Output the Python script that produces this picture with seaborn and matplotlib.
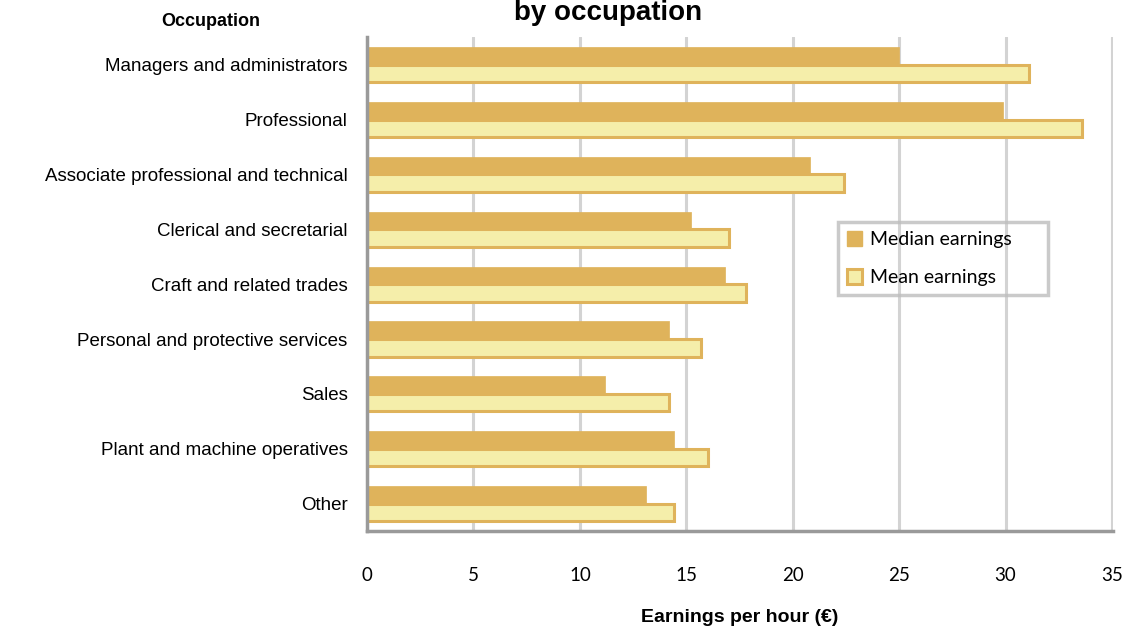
import pandas as pd
import matplotlib.pyplot as plt
import seaborn as sns

# Values
occupations = ['Managers and administrators', 'Professional', 'Associate professional and technical',
               'Clerical and secretarial', 'Craft and related trades', 'Personal and protective services',
               'Sales', 'Plant and machine operatives', 'Other']
median_earnings = [25.0, 29.9, 20.8, 15.2, 16.8, 14.2, 11.2, 14.4, 13.1]
mean_earnings = [31.1, 33.6, 22.4, 17.0, 17.8, 15.7, 14.2, 16.0, 14.4]
x_ticks = [0, 5, 10, 15, 20, 25, 30, 35]

data = pd.DataFrame({
    'occupation': occupations * 2,
    'earnings': median_earnings + mean_earnings,
    'series': ['Median earnings'] * len(occupations) + ['Mean earnings'] * len(occupations),
})

sns.set_style('white')
plt.rcParams['font.family'] = ['Liberation Sans', 'DejaVu Sans']
plt.rcParams['text.color'] = 'black'
plt.rcParams['xtick.color'] = 'black'
plt.rcParams['ytick.color'] = 'black'
plt.rcParams['axes.labelcolor'] = 'black'

gold = '#DFB35B'
pale = '#F5EEAA'
grey = '#9A9A9A'

fig = plt.figure(figsize=(11.26, 6.28), dpi=100)
ax = fig.add_axes([0.326, 0.1545, 0.6625, 0.786])

sns.barplot(data=data, y='occupation', x='earnings', hue='series',
            hue_order=['Median earnings', 'Mean earnings'], order=occupations,
            palette=[gold, pale], saturation=1, width=0.64, orient='h', ax=ax, legend=True)

# median bars flat, mean bars outlined
for bar in ax.containers[0]:
    bar.set_edgecolor(gold)
    bar.set_linewidth(0.5)
for bar in ax.containers[1]:
    bar.set_edgecolor(gold)
    bar.set_linewidth(2.2)

ax.set_xlim(0, 35.05)
ax.set_ylim(len(occupations) - 0.5, -0.5)
ax.set_xticks(x_ticks)
ax.set_xticklabels([str(t) for t in x_ticks], family='Lato', fontsize=13.5)
ax.xaxis.grid(True, color='#D3D3D3', linewidth=2.2)
ax.set_axisbelow(True)

ax.tick_params(axis='x', direction='out', length=8, width=2, color=grey, pad=18)
ax.tick_params(axis='y', length=0, pad=14, labelsize=13.5)

for side in ['top', 'right']:
    ax.spines[side].set_visible(False)
for side in ['left', 'bottom']:
    ax.spines[side].set_color(grey)
    ax.spines[side].set_linewidth(2.5)

ax.set_ylabel('')
ax.set_xlabel('Earnings per hour (€)', fontsize=14, fontweight='bold', labelpad=18)

fig.text(0.187, 0.965, 'Occupation', ha='center', va='center', fontsize=13, fontweight='bold')
fig.text(0.54, 1.0, 'by occupation', ha='center', va='top', fontsize=20, fontweight='bold')

leg = ax.legend(loc='upper left', bbox_to_anchor=(0.631, 0.625, 0.2815, 0.0), mode='expand',
                frameon=True, prop={'family': 'Lato', 'size': 14}, handlelength=0.8,
                handleheight=0.8, handletextpad=0.4, labelspacing=1.06, borderpad=0.45,
                borderaxespad=0)
leg.get_frame().set_facecolor('none')
leg.get_frame().set_edgecolor('#BDBDBD')
leg.get_frame().set_linewidth(2.5)
leg.get_frame().set_boxstyle('square', pad=0)
for h in leg.legend_handles:
    h.set_edgecolor(gold)
leg.legend_handles[1].set_linewidth(2.2)

fig.savefig('out.png', dpi=100)
